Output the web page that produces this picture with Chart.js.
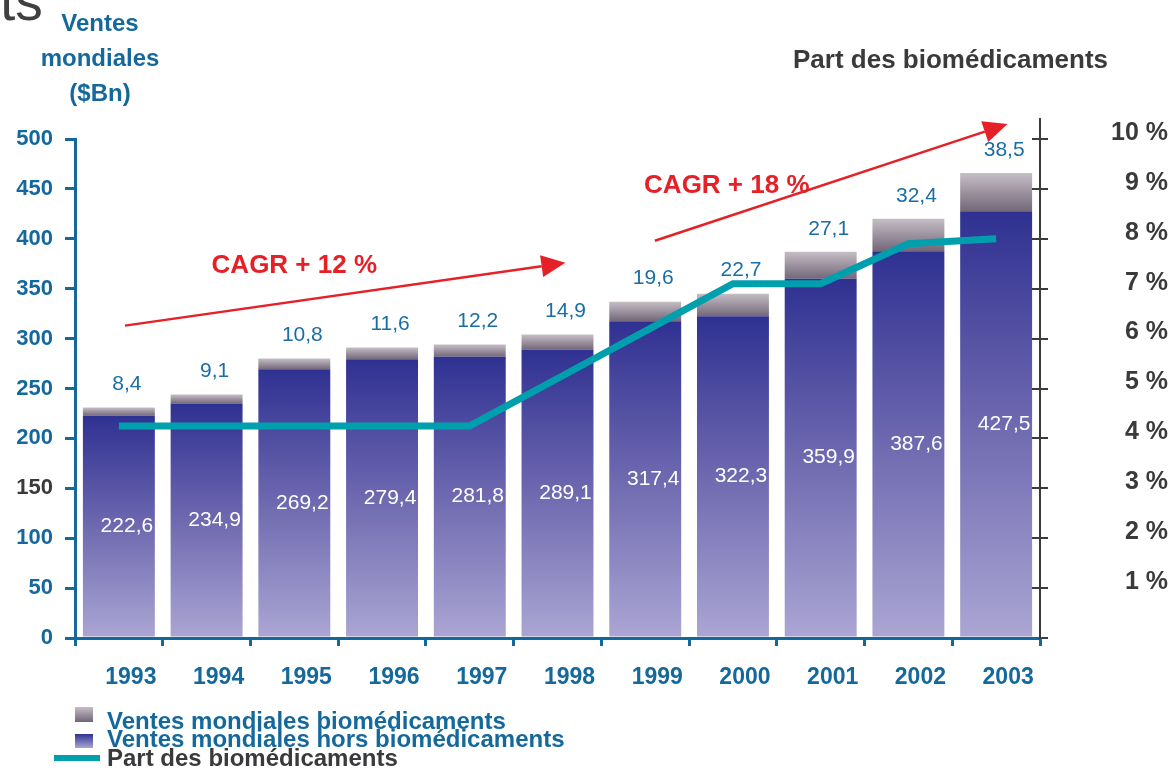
<!DOCTYPE html>
<html>
<head>
<meta charset="utf-8">
<script src="https://cdn.jsdelivr.net/npm/chart.js@4"></script>
<style>
  body { margin: 0; background: #fff; }
  #wrap { position: relative; width: 1176px; height: 768px; overflow: hidden; font-family: "Liberation Sans", Arial, sans-serif; }
  #wrap canvas { position: absolute; left: 0; top: 0; }
  .txt { position: absolute; white-space: nowrap; font-weight: bold; }
  .blue { color: #14689c; }
  .dark { color: #3a3a3c; }
  .sw { position: absolute; }
</style>
</head>
<body>
<div id="wrap">
  <canvas id="chart" width="1176" height="768"></canvas>
  <!-- cut-off page title -->
  <div class="txt" style="left:0;top:-26px;font-size:55px;line-height:55px;font-weight:normal;color:#404040;">ts</div>
  <div class="txt blue" style="left:0;top:5px;width:200px;text-align:center;font-size:24px;line-height:35px;">Ventes<br>mondiales<br>($Bn)</div>
  <div class="txt dark" style="left:793px;top:46px;font-size:26px;line-height:26px;">Part des biomédicaments</div>
  <!-- legend -->
  <div class="sw" style="left:75px;top:707px;width:18px;height:15px;background:linear-gradient(#c5bec5,#706478);"></div>
  <div class="sw" style="left:75px;top:734px;width:18px;height:14px;background:linear-gradient(#2f3192,#aaa5d2);"></div>
  <div class="sw" style="left:54px;top:755px;width:46px;height:6px;background:#009fae;"></div>
  <div class="txt blue" style="left:107px;top:709px;font-size:24px;line-height:24px;">Ventes mondiales biomédicaments</div>
  <div class="txt blue" style="left:107px;top:727px;font-size:24px;line-height:24px;">Ventes mondiales hors biomédicaments</div>
  <div class="txt dark" style="left:107px;top:746px;font-size:24px;line-height:24px;">Part des biomédicaments</div>
</div>
<script>
// data
const years = ["1993", "1994", "1995", "1996", "1997", "1998", "1999", "2000", "2001", "2002", "2003"];
const horsBio = [222.6, 234.9, 269.2, 279.4, 281.8, 289.1, 317.4, 322.3, 359.9, 387.6, 427.5];
const bio = [8.4, 9.1, 10.8, 11.6, 12.2, 14.9, 19.6, 22.7, 27.1, 32.4, 38.5];
const partBio = [4.25, 4.25, 4.25, 4.25, 4.25, 5.2, 6.15, 7.1, 7.1, 7.9, 8.0];
const leftTicks = [0, 50, 100, 150, 200, 250, 300, 350, 400, 450, 500];

// CAGR arrows, in axis units (category index, $Bn)
const cagr = [
  { text: "CAGR + 12 %", from: [0.07, 313], to: [5.09, 376], at: [2.0, 373] },
  { text: "CAGR + 18 %", from: [6.11, 398], to: [10.13, 515], at: [6.93, 453] },
];

const BLUE = "#14689c";
const DARK = "#3a3a3c";
const FONT = "'Liberation Sans', Arial, sans-serif";

function gradientFill(lowArr, highArr, stops, fallback) {
  return (c) => {
    const chart = c.chart;
    const y = chart.scales.y;
    if (!chart.chartArea || !y || c.dataIndex === undefined) return fallback;
    const i = c.dataIndex;
    const lo = lowArr ? lowArr[i] : 0;
    const hi = lo + highArr[i];
    const g = chart.ctx.createLinearGradient(0, y.getPixelForValue(hi), 0, y.getPixelForValue(lo));
    stops.forEach((s) => g.addColorStop(s[0], s[1]));
    return g;
  };
}

const barLabels = {
  id: "barLabels",
  afterDatasetsDraw(chart) {
    const ctx = chart.ctx;
    const lower = chart.getDatasetMeta(1).data;
    const upper = chart.getDatasetMeta(2).data;
    ctx.save();
    ctx.font = "21px " + FONT;
    ctx.textAlign = "center";
    ctx.textBaseline = "middle";
    lower.forEach((bar, i) => {
      ctx.fillStyle = "#ffffff";
      ctx.fillText(horsBio[i].toFixed(1).replace(".", ","), bar.x + 8, (bar.y + bar.base) / 2);
      ctx.fillStyle = "#1a6ea3";
      ctx.fillText(bio[i].toFixed(1).replace(".", ","), upper[i].x + 8, upper[i].y - 23);
    });
    ctx.restore();
  },
};

const extras = {
  id: "extras",
  afterDraw(chart) {
    const ctx = chart.ctx;
    const { x, y, y1 } = chart.scales;
    ctx.save();
    // right axis: inner half of tick marks and top extension
    ctx.strokeStyle = DARK;
    ctx.lineWidth = 2;
    ctx.beginPath();
    y1.ticks.forEach((t) => {
      if (t.value === 0) return;
      const py = Math.round(y1.getPixelForValue(t.value));
      ctx.moveTo(y1.left - 8, py);
      ctx.lineTo(y1.left, py);
    });
    ctx.moveTo(y1.left, chart.chartArea.top);
    ctx.lineTo(y1.left, chart.chartArea.top - 21);
    ctx.stroke();
    // CAGR arrows
    ctx.strokeStyle = "#e52127";
    ctx.fillStyle = "#e52127";
    ctx.lineWidth = 2.5;
    cagr.forEach((a) => {
      const x0 = x.getPixelForValue(a.from[0]), y0 = y.getPixelForValue(a.from[1]);
      const x1 = x.getPixelForValue(a.to[0]), y1p = y.getPixelForValue(a.to[1]);
      const ang = Math.atan2(y1p - y0, x1 - x0);
      const len = 24, half = 11;
      const bx = x1 - len * Math.cos(ang), by = y1p - len * Math.sin(ang);
      ctx.beginPath();
      ctx.moveTo(x0, y0);
      ctx.lineTo(bx, by);
      ctx.stroke();
      ctx.beginPath();
      ctx.moveTo(x1, y1p);
      ctx.lineTo(bx + half * Math.sin(ang), by - half * Math.cos(ang));
      ctx.lineTo(bx - half * Math.sin(ang), by + half * Math.cos(ang));
      ctx.closePath();
      ctx.fill();
      ctx.font = "bold 26px " + FONT;
      ctx.textAlign = "center";
      ctx.textBaseline = "middle";
      ctx.fillText(a.text, x.getPixelForValue(a.at[0]), y.getPixelForValue(a.at[1]));
    });
    ctx.restore();
  },
};

new Chart(document.getElementById("chart"), {
  type: "bar",
  data: {
    labels: years,
    datasets: [
      {
        type: "line",
        label: "Part des biomédicaments",
        data: partBio,
        yAxisID: "y1",
        borderColor: "#009fae",
        borderWidth: 7,
        pointRadius: 0,
        tension: 0,
        order: 0,
      },
      {
        label: "Ventes mondiales hors biomédicaments",
        data: horsBio,
        yAxisID: "y",
        stack: "ventes",
        order: 1,
        barPercentage: 0.82,
        categoryPercentage: 1,
        borderWidth: 0,
        backgroundColor: gradientFill(null, horsBio, [[0, "#2f3192"], [0.5, "#6f69b0"], [1, "#aba6d3"]], "#6f69b0"),
      },
      {
        label: "Ventes mondiales biomédicaments",
        data: bio,
        yAxisID: "y",
        stack: "ventes",
        order: 1,
        barPercentage: 0.82,
        categoryPercentage: 1,
        borderWidth: 0,
        backgroundColor: gradientFill(horsBio, bio, [[0, "#c5bec5"], [1, "#736779"]], "#9a909e"),
      },
    ],
  },
  options: {
    responsive: false,
    animation: false,
    devicePixelRatio: 1,
    layout: { padding: { top: 139, left: 0, right: 8, bottom: 0 } },
    plugins: { legend: { display: false }, tooltip: { enabled: false } },
    scales: {
      x: {
        stacked: true,
        afterFit: (s) => { s.height = 130; },
        grid: { offset: true, drawOnChartArea: false, tickLength: 8, color: BLUE, lineWidth: 3 },
        border: { color: BLUE, width: 3 },
        ticks: { color: BLUE, font: { family: FONT, size: 23, weight: "bold" }, padding: 18, labelOffset: 12 },
      },
      y: {
        stacked: true,
        min: 0,
        max: 500,
        afterFit: (s) => { s.width = 75; },
        afterBuildTicks: (s) => { s.ticks = leftTicks.map((v) => ({ value: v })); },
        grid: { drawOnChartArea: false, tickLength: 10, color: BLUE, lineWidth: 3 },
        border: { color: BLUE, width: 3 },
        ticks: {
          color: (c) => (c.tick && c.tick.value === 150 ? DARK : BLUE),
          font: { family: FONT, size: 22, weight: "bold" },
          padding: 12,
        },
      },
      y1: {
        position: "right",
        min: 0,
        max: 10,
        afterFit: (s) => { s.width = 128; },
        grid: { drawOnChartArea: false, tickLength: 8, color: DARK, lineWidth: 2 },
        border: { color: DARK, width: 2 },
        ticks: {
          stepSize: 1,
          color: DARK,
          font: { family: FONT, size: 25, weight: "bold" },
          crossAlign: "far",
          padding: 63,
          labelOffset: -6,
          callback: (v) => (v === 0 ? "" : v + " %"),
        },
      },
    },
  },
  plugins: [barLabels, extras],
});
</script>
</body>
</html>
